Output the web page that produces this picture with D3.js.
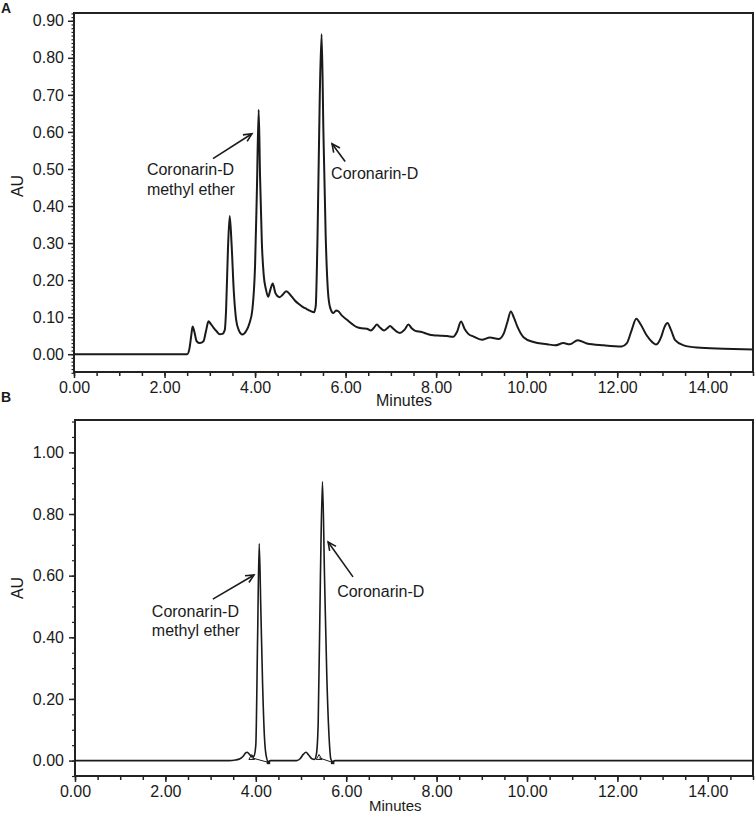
<!DOCTYPE html>
<html>
<head>
<meta charset="utf-8">
<script src="https://cdn.jsdelivr.net/npm/d3@7"></script>
<style>
  body { margin: 0; background: #fff; }
  svg text { font-family: "Liberation Sans", Arial, sans-serif; fill: #1a1a1a; }
</style>
</head>
<body>
<svg id="chart" width="756" height="814"></svg>
<script>
// x ticks (minutes) shared by both panels
var xTicks = [0, 2, 4, 6, 8, 10, 12, 14];
var yTicksA = [0, 0.1, 0.2, 0.3, 0.4, 0.5, 0.6, 0.7, 0.8, 0.9];
var yTicksB = [0, 0.2, 0.4, 0.6, 0.8, 1.0];

// panel A: extract chromatogram [minutes, AU]
var traceA = [
  [0, 0], [2.50, 0], [2.55, 0.015], [2.59, 0.05], [2.62, 0.075], [2.66, 0.06], [2.71, 0.035],
  [2.78, 0.03], [2.86, 0.035], [2.92, 0.065], [2.97, 0.089], [3.02, 0.082], [3.08, 0.072],
  [3.15, 0.062], [3.22, 0.054], [3.28, 0.055], [3.33, 0.065], [3.36, 0.12], [3.40, 0.28],
  [3.44, 0.373], [3.48, 0.30], [3.53, 0.17], [3.58, 0.095], [3.64, 0.065], [3.72, 0.053],
  [3.80, 0.062], [3.88, 0.085], [3.94, 0.12], [4.00, 0.24], [4.04, 0.44], [4.08, 0.66],
  [4.11, 0.48], [4.15, 0.30], [4.19, 0.215], [4.24, 0.175], [4.29, 0.155], [4.34, 0.175],
  [4.39, 0.191], [4.45, 0.165], [4.54, 0.154], [4.62, 0.162], [4.69, 0.170], [4.78, 0.160],
  [4.88, 0.145], [4.96, 0.136], [5.05, 0.128], [5.14, 0.122], [5.22, 0.117], [5.30, 0.113],
  [5.34, 0.13], [5.38, 0.32], [5.43, 0.70], [5.47, 0.864], [5.51, 0.60], [5.56, 0.32],
  [5.61, 0.17], [5.66, 0.125], [5.73, 0.111], [5.79, 0.118], [5.84, 0.116], [5.92, 0.104],
  [6.03, 0.093], [6.14, 0.082], [6.25, 0.073], [6.35, 0.070], [6.47, 0.069], [6.56, 0.064],
  [6.63, 0.072], [6.69, 0.080], [6.76, 0.072], [6.85, 0.064], [6.92, 0.070], [6.98, 0.076],
  [7.06, 0.068], [7.20, 0.057], [7.30, 0.066], [7.39, 0.080], [7.46, 0.070], [7.54, 0.063],
  [7.68, 0.060], [7.80, 0.055], [7.94, 0.051], [8.09, 0.050], [8.24, 0.049], [8.38, 0.047],
  [8.46, 0.060], [8.55, 0.088], [8.63, 0.068], [8.71, 0.055], [8.82, 0.048], [9.01, 0.039],
  [9.19, 0.045], [9.38, 0.041], [9.49, 0.055], [9.57, 0.085], [9.65, 0.115], [9.72, 0.098],
  [9.80, 0.073], [9.93, 0.046], [10.15, 0.033], [10.45, 0.027], [10.63, 0.024], [10.81, 0.030],
  [10.95, 0.027], [11.13, 0.038], [11.33, 0.029], [11.70, 0.024], [12.10, 0.021], [12.21, 0.029],
  [12.32, 0.065], [12.42, 0.096], [12.52, 0.080], [12.65, 0.051], [12.78, 0.032], [12.86, 0.026],
  [12.97, 0.046], [13.04, 0.072], [13.11, 0.084], [13.19, 0.065], [13.28, 0.038], [13.47, 0.024],
  [13.76, 0.018], [14.35, 0.015], [15.0, 0.013]
];

// panel B: standards
var traceB = [
  [0, 0], [3.40, 0], [3.55, 0.002], [3.65, 0.006], [3.72, 0.014], [3.77, 0.024], [3.81, 0.027],
  [3.86, 0.02], [3.91, 0.013], [3.96, 0.015], [4.00, 0.05], [4.04, 0.40], [4.075, 0.704],
  [4.11, 0.50], [4.15, 0.25], [4.19, 0.08], [4.23, 0.015], [4.28, -0.005], [4.32, 0], [4.90, 0],
  [4.98, 0.006], [5.05, 0.02], [5.11, 0.027], [5.17, 0.018], [5.24, 0.006], [5.30, 0.004],
  [5.34, 0.02], [5.38, 0.12], [5.43, 0.60], [5.475, 0.905], [5.52, 0.60], [5.57, 0.28],
  [5.62, 0.08], [5.66, 0.005], [5.70, -0.004], [5.75, 0], [15, 0]
];

// integration start/end marks in panel B [start t, start AU, end t, end AU]
var peakMarksB = [[3.91, 0.009, 4.28, -0.006], [5.40, 0.009, 5.70, -0.006]];

// annotations: text lines, text anchor (t, AU), arrow tail and head (t, AU)
var notesA = [
  { lines: ["Coronarin-D", "methyl ether"], at: [1.61, 0.483], tail: [3.07, 0.528], head: [3.93, 0.595] },
  { lines: ["Coronarin-D"], at: [5.68, 0.472], tail: [5.99, 0.52], head: [5.70, 0.568] }
];
var notesB = [
  { lines: ["Coronarin-D", "methyl ether"], at: [1.70, 0.466], tail: [3.05, 0.524], head: [3.96, 0.602] },
  { lines: ["Coronarin-D"], at: [5.80, 0.531], tail: [6.15, 0.596], head: [5.60, 0.709] }
];

var svg = d3.select("#chart");

function drawPanel(p) {
  var x = d3.scaleLinear().domain([0, 15]).range([p.left, 753]);
  var y = d3.scaleLinear().domain(p.yDomain).range([p.bottom, p.top]);
  var g = svg.append("g");

  // minor ticks
  g.append("g")
    .attr("transform", "translate(0," + p.bottom + ")")
    .call(d3.axisBottom(x).tickValues(d3.range(0, 15.01, 0.5)).tickSize(4).tickFormat(""))
    .call(function(s) { s.select(".domain").remove(); s.selectAll("line").attr("stroke", "#222").attr("stroke-width", 1.5); });
  g.append("g")
    .attr("transform", "translate(" + p.left + ",0)")
    .call(d3.axisLeft(y).tickValues(d3.range(p.yDomain[0] < -0.04 ? -0.05 : 0, p.yDomain[1], p.yMinor)
      .map(function(d) { return Math.round(d * 1000) / 1000; })).tickSize(p.yMinorSize).tickFormat(""))
    .call(function(s) { s.select(".domain").remove(); s.selectAll("line").attr("stroke", "#222").attr("stroke-width", 1.2); });

  // major ticks + labels
  var xa = g.append("g")
    .attr("transform", "translate(0," + p.bottom + ")")
    .call(d3.axisBottom(x).tickValues(xTicks).tickSize(6).tickPadding(p.xPad).tickFormat(d3.format(".2f")));
  var ya = g.append("g")
    .attr("transform", "translate(" + p.left + ",0)")
    .call(d3.axisLeft(y).tickValues(p.yTicks).tickSize(6).tickPadding(p.yPad).tickFormat(d3.format(".2f")));
  [xa, ya].forEach(function(a) {
    a.select(".domain").remove();
    a.selectAll("line").attr("stroke", "#222").attr("stroke-width", 1.5);
    a.selectAll("text").attr("font-size", "16px").attr("font-family", null).attr("fill", "#1a1a1a");
  });

  // frame
  g.append("rect")
    .attr("x", p.left).attr("y", p.top)
    .attr("width", 753 - p.left).attr("height", p.bottom - p.top)
    .attr("fill", "none").attr("stroke", "#222").attr("stroke-width", 2);

  // trace
  var line = d3.line()
    .x(function(d) { return x(d[0]); })
    .y(function(d) { return y(d[1]); })
    .curve(d3.curveMonotoneX);
  g.append("path")
    .datum(p.trace)
    .attr("d", line)
    .attr("fill", "none")
    .attr("stroke", "#1a1a1a")
    .attr("stroke-width", p.lineWidth)
    .attr("stroke-linejoin", "round");

  // integration marks
  (p.marks || []).forEach(function(m) {
    g.append("line")
      .attr("x1", x(m[0])).attr("y1", y(m[1]))
      .attr("x2", x(m[2])).attr("y2", y(m[3]))
      .attr("stroke", "#1a1a1a").attr("stroke-width", 1);
    g.append("path")
      .attr("d", d3.symbol(d3.symbolTriangle, 14)())
      .attr("transform", "translate(" + x(m[0]) + "," + y(m[1]) + ")")
      .attr("fill", "none").attr("stroke", "#1a1a1a").attr("stroke-width", 1);
    g.append("path")
      .attr("d", d3.symbol(d3.symbolSquare, 12)())
      .attr("transform", "translate(" + x(m[2]) + "," + y(m[3]) + ")")
      .attr("fill", "#1a1a1a");
  });

  // annotations
  p.notes.forEach(function(n) {
    var t = g.append("text")
      .attr("x", x(n.at[0])).attr("y", y(n.at[1]))
      .attr("font-size", "16px");
    n.lines.forEach(function(s, i) {
      t.append("tspan").attr("x", x(n.at[0])).attr("dy", i == 0 ? 0 : 19.5).text(s);
    });
    var x1 = x(n.tail[0]), y1 = y(n.tail[1]), x2 = x(n.head[0]), y2 = y(n.head[1]);
    var ang = Math.atan2(y2 - y1, x2 - x1), len = 9, spread = 0.45;
    g.append("line")
      .attr("x1", x1).attr("y1", y1).attr("x2", x2).attr("y2", y2)
      .attr("stroke", "#1a1a1a").attr("stroke-width", 1.6);
    g.append("path")
      .attr("d", "M" + (x2 - len * Math.cos(ang - spread)) + "," + (y2 - len * Math.sin(ang - spread)) +
        "L" + x2 + "," + y2 +
        "L" + (x2 - len * Math.cos(ang + spread)) + "," + (y2 - len * Math.sin(ang + spread)))
      .attr("fill", "none").attr("stroke", "#1a1a1a").attr("stroke-width", 1.6);
  });

  // axis titles
  g.append("text")
    .attr("x", p.minutesX).attr("y", p.minutesY)
    .attr("font-size", p.minutesSize)
    .text("Minutes");
  g.append("text")
    .attr("transform", "translate(23," + p.auY + ") rotate(-90)")
    .attr("text-anchor", "middle").attr("font-size", "16px")
    .text("AU");
  svg.append("text")
    .attr("x", 1).attr("y", p.letterY)
    .attr("font-size", "14px").attr("font-weight", "bold")
    .text(p.letter);
}

drawPanel({
  letter: "A", letterY: 13, left: 74, top: 13, bottom: 372,
  yDomain: [-0.048, 0.921], yTicks: yTicksA, yMinor: 0.01, yMinorSize: 2.5,
  xPad: 4, yPad: 4, minutesX: 376, minutesY: 406, minutesSize: "16px", auY: 186,
  trace: traceA, lineWidth: 2, notes: notesA
});

drawPanel({
  letter: "B", letterY: 402, left: 75, top: 420, bottom: 776,
  yDomain: [-0.05, 1.105], yTicks: yTicksB, yMinor: 0.05, yMinorSize: 3,
  xPad: 4, yPad: 5, minutesX: 369, minutesY: 810.5, minutesSize: "15px", auY: 588,
  trace: traceB, lineWidth: 1.6, notes: notesB, marks: peakMarksB
});
</script>
</body>
</html>
